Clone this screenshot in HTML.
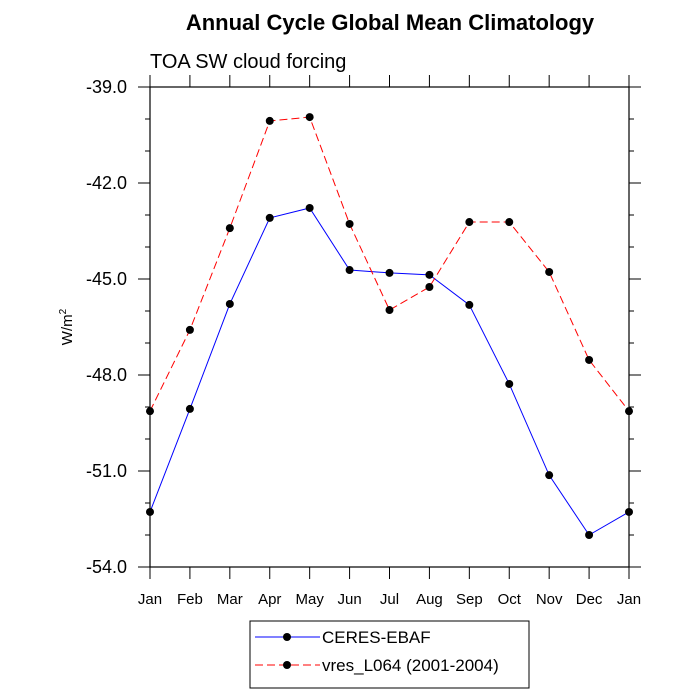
<!DOCTYPE html>
<html><head><meta charset="utf-8"><style>body{margin:0;background:#fff}svg{display:block}</style></head>
<body>
<svg id="c" width="700" height="700" xmlns="http://www.w3.org/2000/svg" font-family="Liberation Sans, sans-serif">
<text x="390" y="30" text-anchor="middle" font-size="22" font-weight="bold">Annual Cycle Global Mean Climatology</text>
<text x="150" y="68" font-size="20">TOA SW cloud forcing</text>
<text transform="translate(72,327) rotate(-90)" text-anchor="middle" font-size="15">W/m<tspan dy="-6" font-size="10">2</tspan></text>
<g id="axes"></g>
<g id="series"></g>
<g>
<rect x="250" y="621" width="279" height="67" fill="#fff" stroke="#000" stroke-width="1"/>
<line x1="255" y1="637" x2="320" y2="637" stroke="#00f"/>
<circle cx="287" cy="637" r="4"/>
<text x="322" y="643" font-size="17">CERES-EBAF</text>
<line x1="255" y1="665" x2="320" y2="665" stroke="#f00" stroke-dasharray="8,4"/>
<circle cx="287" cy="665" r="4"/>
<text x="322" y="671" font-size="17">vres_L064 (2001-2004)</text>
</g>
</svg>
<script>
const months=["Jan","Feb","Mar","Apr","May","Jun","Jul","Aug","Sep","Oct","Nov","Dec","Jan"];
const ceres=[-52.28,-49.06,-45.78,-43.09,-42.78,-44.72,-44.81,-44.87,-45.81,-48.28,-51.13,-53.0,-52.28];
const vres=[-49.13,-46.59,-43.41,-40.06,-39.94,-43.28,-45.97,-45.25,-43.22,-43.22,-44.78,-47.53,-49.13];
const yTicks=[-39,-42,-45,-48,-51,-54];
const NS="http://www.w3.org/2000/svg";
const L=150,R=629,T=87,B=567,ymin=-54,ymax=-39;
const xs=i=>L+(R-L)*i/(months.length-1);
const ys=v=>B-(v-ymin)/(ymax-ymin)*(B-T);
function mk(tag,attrs,parent){const e=document.createElementNS(NS,tag);for(const k in attrs)e.setAttribute(k,attrs[k]);parent.appendChild(e);return e;}
const ax=document.getElementById('axes');
const fr=mk('rect',{x:L,y:T,width:R-L,height:B-T,fill:'none',stroke:'#000','stroke-width':1.2},ax);


for(let v=ymin;v<=ymax;v++){const y=ys(v);const major=yTicks.includes(v);const len=major?12:5;
 mk('line',{x1:L-len,y1:y,x2:L,y2:y,stroke:'#000'},ax);mk('line',{x1:R,y1:y,x2:R+len,y2:y,stroke:'#000'},ax);
 if(major){const t=mk('text',{x:L-23,y:y+6,'text-anchor':'end','font-size':18},ax);t.textContent=v.toFixed(1);
 
 }}
months.forEach((m,i)=>{const x=xs(i);
 mk('line',{x1:x,y1:B,x2:x,y2:B+12,stroke:'#000'},ax);mk('line',{x1:x,y1:T-12,x2:x,y2:T,stroke:'#000'},ax);
 const t=mk('text',{x:x,y:B+37,'text-anchor':'middle','font-size':15},ax);t.textContent=m;
 
 });
const sg=document.getElementById('series');
function draw(vals,color,dash,name){
 const p=mk('polyline',{points:vals.map((v,i)=>xs(i)+','+ys(v)).join(' '),fill:'none',stroke:color,'stroke-width':1,'stroke-dasharray':dash},sg);
 
 
 vals.forEach((v,i)=>{const c=mk('circle',{cx:xs(i),cy:ys(v),r:4,fill:'#000'},sg);
 
 });}
draw(ceres,'#00f','none','ceres');
draw(vres,'#f00','8,4','vres');
</script>
</body></html>
